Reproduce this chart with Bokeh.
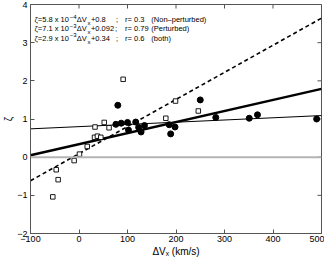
from bokeh.plotting import figure
from bokeh.models import Label, Span, Range1d, FixedTicker
from bokeh.embed import file_html
from bokeh.resources import INLINE

# Non-perturbed events (filled circles)
np_dv = [76, 80, 87, 100, 102, 117, 123, 128, 135, 186, 189, 198, 250, 282, 351, 368, 490]
np_zeta = [0.86, 1.36, 0.89, 0.91, 0.71, 0.92, 0.78, 0.66, 0.83, 0.85, 0.61, 0.79, 1.50, 1.04, 1.02, 1.11, 1.00]
# Perturbed events (open squares)
pt_dv = [-54, -47, -43, -10, 1, 17, 32, 33, 38, 45, 52, 62, 91, 179, 199, 246]
pt_zeta = [-1.04, -0.33, -0.59, -0.09, 0.08, 0.28, 0.52, 0.79, 0.55, 0.52, 0.91, 0.77, 2.04, 1.02, 1.47, 1.21]

# Linear fits: non-perturbed, perturbed, both
fit_slope = [5.8e-4, 7.1e-3, 2.9e-3]
fit_icpt = [0.8, 0.092, 0.34]
fit_x = [-100, 500]

x_ticks = [-100, 0, 100, 200, 300, 400, 500]
y_ticks = [-2, -1, 0, 1, 2, 3, 4]

eq_prefix = ["ζ=5.8 x 10", "ζ=7.1 x 10", "ζ=2.9 x 10"]
eq_exp = ["−4", "−3", "−3"]
eq_const = ["+0.8", "+0.092", "+0.34"]
r_text = ["r= 0.3", "r= 0.79", "r= 0.6"]
group_text = ["(Non–perturbed)", "(Perturbed)", "(both)"]

FONT = "Liberation Sans"
FRAME = "#555555"
XMIN, XMAX, YMIN, YMAX = -100, 500, -2, 4

p = figure(width=324, height=259, output_backend="svg", toolbar_location=None,
           x_range=Range1d(XMIN, XMAX), y_range=Range1d(YMIN, YMAX),
           min_border_left=24, min_border_right=3, min_border_top=4, min_border_bottom=22)
p.grid.visible = False
p.outline_line_color = FRAME
p.background_fill_color = "white"

def style_axis(ax, ticks):
    ax.ticker = FixedTicker(ticks=ticks)
    ax.minor_tick_line_color = None
    ax.major_tick_in = 4
    ax.major_tick_out = 0
    ax.major_tick_line_color = FRAME
    ax.axis_line_color = FRAME
    ax.major_label_text_font = FONT
    ax.major_label_text_font_size = "9px"
    ax.major_label_text_color = "black"
    ax.major_label_standoff = 2
    ax.axis_label_text_font = FONT
    ax.axis_label_text_font_style = "normal"
    ax.axis_label_text_color = "black"
    ax.axis_label_standoff = 0
    ax.major_label_overrides = {t: str(t).replace("-", "−") for t in ticks}

style_axis(p.xaxis[0], x_ticks)
style_axis(p.yaxis[0], y_ticks)
p.xaxis[0].axis_label = "ΔVₓ (km/s)"
p.xaxis[0].axis_label_text_font_size = "10px"
p.xaxis[0].axis_label_standoff = 1
p.yaxis[0].axis_label = "ζ"
p.yaxis[0].axis_label_text_font_size = "10px"
p.yaxis[0].major_label_standoff = 3

# inward ticks on the top and right edges of the box (4 px long)
tick_len_y = 4 * (YMAX - YMIN) / 228.0
tick_len_x = 4 * (XMAX - XMIN) / 289.0
p.segment(x0=x_ticks, y0=[YMAX] * len(x_ticks), x1=x_ticks, y1=[YMAX - tick_len_y] * len(x_ticks),
          line_color=FRAME, line_width=1)
p.segment(x0=[XMAX] * len(y_ticks), y0=y_ticks, x1=[XMAX - tick_len_x] * len(y_ticks), y1=y_ticks,
          line_color=FRAME, line_width=1)

p.add_layout(Span(location=0, dimension="width", line_color="#b4b4b4", line_width=2))

# fit lines
p.line(fit_x, [fit_slope[0] * x + fit_icpt[0] for x in fit_x], line_color="black", line_width=1)
p.line(fit_x, [fit_slope[1] * x + fit_icpt[1] for x in fit_x], line_color="black", line_width=1.6,
       line_dash="4 3")
p.line(fit_x, [fit_slope[2] * x + fit_icpt[2] for x in fit_x], line_color="black", line_width=2.5)

p.scatter(pt_dv, pt_zeta, marker="square", size=4.5, fill_color="white", line_color="black",
          line_width=0.9)
p.scatter(np_dv, np_zeta, marker="circle", size=6, fill_color="black", line_color="black")

# equation annotations
line_y = [3.605, 3.36, 3.11]
for i in range(3):
    y = line_y[i]
    pieces = [
        (-91.7, y, eq_prefix[i], "7.5px"),
        (-19.0, y + 0.08, eq_exp[i], "6px"),
        (-4.5, y, "ΔV", "7.5px"),
        (17.3, y - 0.08, "x", "6px"),
        (24.6, y, eq_const[i], "7.5px"),
        (76.5, y, ";", "7.5px"),
        (95.1, y, r_text[i], "7.5px"),
        (149.1, y, group_text[i], "7.5px"),
    ]
    if i == 1:
        pieces[5] = (74.4, y, ";", "7.5px")
    for (lx, ly, txt, fs) in pieces:
        p.add_layout(Label(x=lx, y=ly, text=txt, text_font=FONT, text_font_size=fs,
                           text_baseline="middle", text_align="left", text_color="black"))

open("out.html", "w").write(file_html(p, INLINE))
